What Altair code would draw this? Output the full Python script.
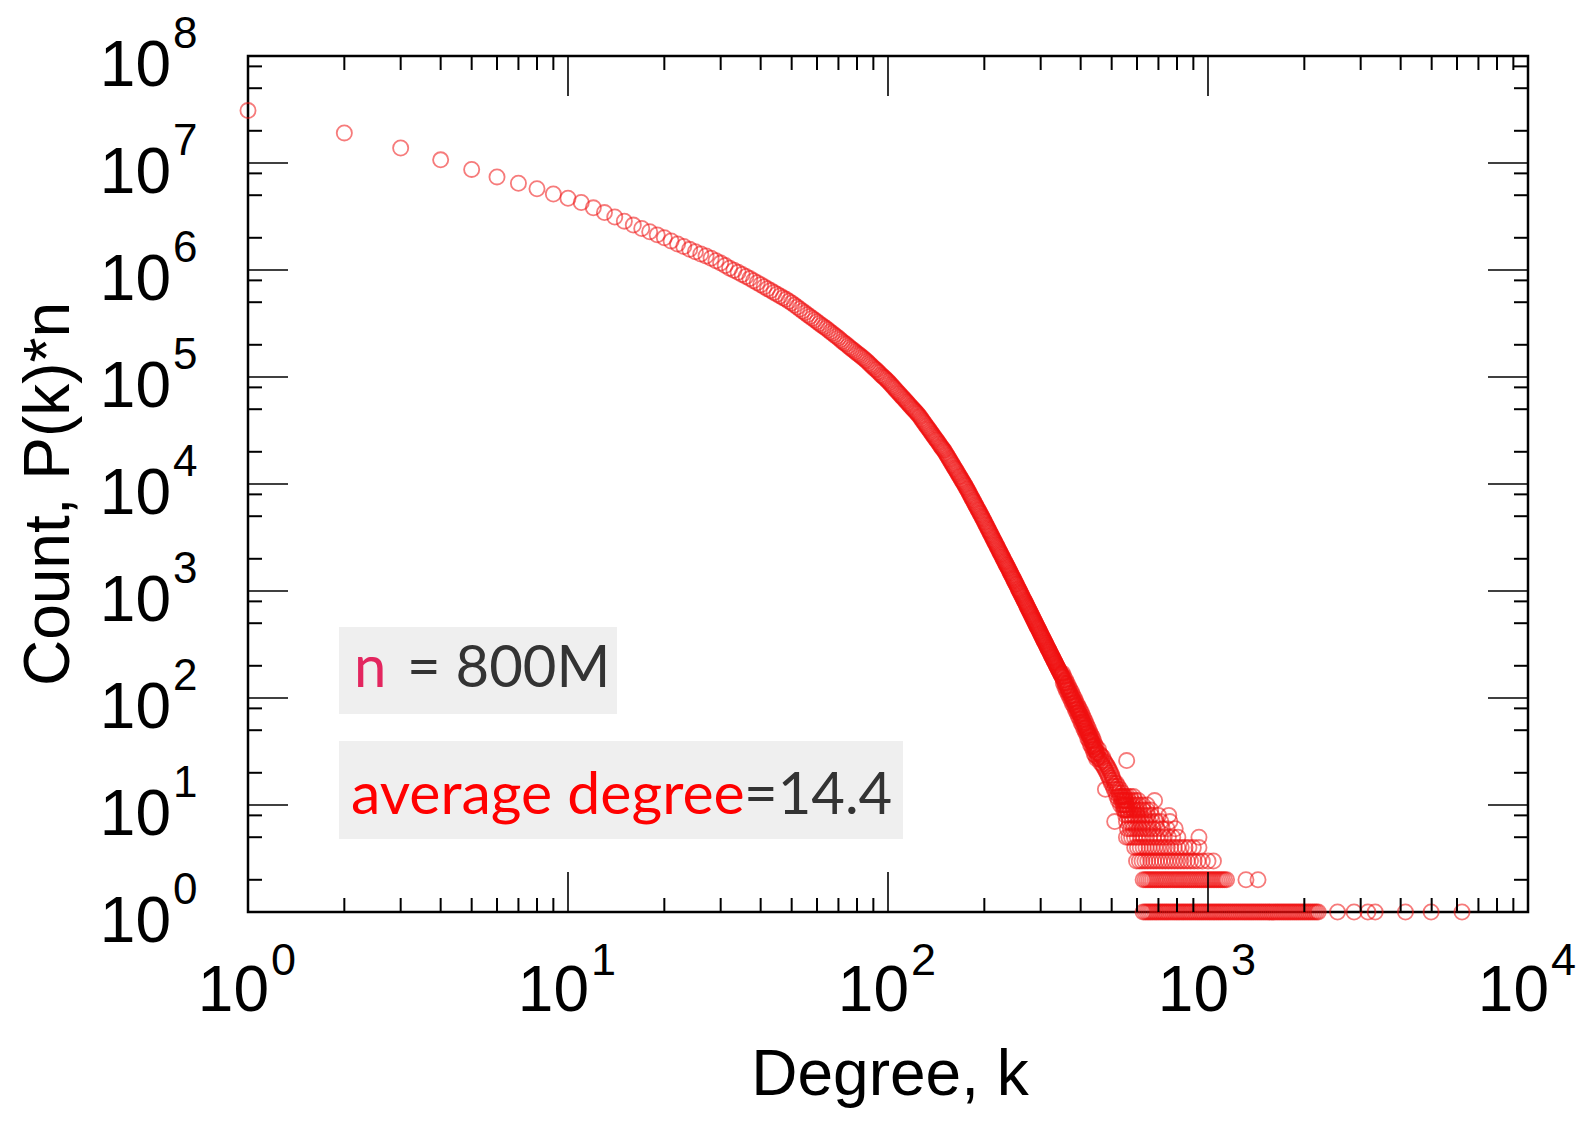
import altair as alt
import pandas as pd

# ---------------- data ----------------
# smooth part of the distribution: every degree 1..101
degree_low = list(range(1, 102))
count_low = [30900000, 19100000, 13800000, 10700000, 8710000, 7410000, 6460000, 5750000, 5130000, 4680000,
             4270000, 3810000, 3440000, 3130000, 2860000, 2630000, 2440000, 2280000, 2130000, 2000000,
             1870000, 1750000, 1660000, 1560000, 1480000, 1410000, 1350000, 1290000, 1220000, 1160000,
             1100000, 1040000, 994000, 951000, 909000, 869000, 831000, 794000, 760000, 728000,
             697000, 668000, 642000, 617000, 594000, 571000, 551000, 532000, 511000, 491000,
             470000, 450000, 432000, 414000, 398000, 382000, 368000, 354000, 341000, 328000,
             316000, 305000, 295000, 285000, 275000, 265000, 256000, 247000, 239000, 231000,
             223000, 215000, 208000, 202000, 195000, 189000, 183000, 178000, 172000, 167000,
             162000, 158000, 153000, 149000, 144000, 140000, 135000, 131000, 127000, 123000,
             119000, 116000, 112000, 109000, 105000, 102000, 99300, 96600, 93900, 91200,
             88300]
# even degrees 102..450
degree_even = list(range(102, 452, 2))
count_even = [85400, 80100, 75200, 70700, 66600, 62800, 59200, 55900, 52800, 49900, 47300, 44900,
              42200, 39500, 37000, 34700, 32600, 30600, 28800, 27100, 25600, 24100, 22700, 21500, 20400,
              19100, 17900, 16800, 15700, 14800, 13900, 13100, 12300, 11600, 10900, 10300, 9720,
              9150, 8590, 8060, 7580, 7130, 6710, 6320, 5960, 5620, 5300, 5010, 4730, 4470,
              4210, 3980, 3750, 3550, 3350, 3170, 3000, 2840, 2690, 2550, 2420, 2290,
              2180, 2070, 1960, 1870, 1770, 1690, 1610, 1530, 1460, 1390, 1320, 1260, 1200,
              1150, 1090, 1040, 993, 948, 905, 864, 825, 789, 754, 721, 690,
              660, 632, 605, 579, 555, 532, 510, 489, 469, 450, 432, 415, 398,
              382, 368, 354, 340, 327, 315, 303, 292, 281, 271, 261, 251,
              242, 234, 225, 217, 210, 202, 195, 189, 182, 176, 170, 164, 158,
              153, 147, 142, 137, 132, 128, 123, 119, 115, 111, 107, 104,
              100, 97, 94, 91, 88, 85, 82, 79, 77, 74, 72, 70, 68,
              65, 63, 61, 59, 57, 55, 53, 52, 50, 48, 47, 45,
              44, 43, 41, 40, 39, 38, 36, 35, 34, 33, 32, 31, 30]
# odd degrees 103..449
degree_odd = list(range(103, 450, 2))
count_odd = [82700, 77600, 72900, 68600, 64700, 61000, 57500, 54300, 51300, 48600, 46100, 43500,
             40800, 38200, 35800, 33600, 31600, 29700, 27900, 26300, 24800, 23400, 22100, 20900,
             19700, 18500, 17300, 16200, 15200, 14300, 13500, 12700, 11900, 11200, 10600, 10000,
             9430, 8870, 8320, 7820, 7350, 6920, 6510, 6140, 5790, 5460, 5150, 4870, 4600,
             4340, 4090, 3860, 3650, 3450, 3260, 3080, 2920, 2760, 2620, 2480, 2350,
             2230, 2120, 2010, 1910, 1820, 1730, 1650, 1570, 1490, 1420, 1350, 1290, 1230,
             1170, 1120, 1060, 1016, 970, 926, 884, 844, 807, 771, 737, 705,
             675, 646, 618, 592, 567, 543, 521, 499, 479, 459, 441, 423, 406,
             390, 375, 361, 347, 333, 321, 309, 297, 286, 276, 266, 256,
             246, 238, 229, 221, 213, 206, 198, 192, 185, 179, 173, 167, 161,
             170, 138, 158, 127, 147, 118, 137, 110, 128, 103, 120, 96,
             113, 89, 105, 84, 99, 78, 92, 73, 86, 68, 81, 64, 77,
             59, 72, 56, 67, 52, 63, 49, 59, 46, 55, 42, 52,
             40, 48, 37, 45, 35, 43, 33, 40, 30, 37, 29, 35, 27]

# noisy part of the tail
tail_degree = [451, 453, 455, 457, 459, 461, 463, 465, 467, 469, 471, 473, 475, 477,
               478,
               479, 481, 483, 485, 487, 489, 491, 493, 495, 497, 499, 501, 503, 505, 507, 509,
               511, 511,
               513, 515, 517, 519, 521, 523, 525, 527, 529, 531, 533, 535, 537, 539, 541, 543,
               545, 547, 549, 551, 553, 555,
               557, 557, 559]
tail_count = [31, 28, 33, 27, 30, 25, 29, 26, 24, 28, 23, 26, 22, 25,
              14,
              21, 24, 20, 23, 19, 22, 18, 21, 17, 20, 16, 19, 18, 15, 17, 14,
              7, 16,
              15, 13, 16, 12, 14, 15, 11, 13, 12, 14, 10, 12, 11, 13, 10, 12,
              9, 11, 10, 12, 9, 11,
              26, 10, 9]

# rows of small integer counts at high degree
row_count = [12, 11, 10, 9, 8, 7, 6, 5, 4, 3, 2, 1]
row_degree = [
    [538, 548, 560, 572, 585],
    [542, 552, 565, 578, 592, 605, 681],
    [545, 556, 568, 580, 594, 608, 625, 645],
    [549, 560, 572, 585, 598, 612, 628, 645, 662],
    [553, 564, 576, 589, 602, 616, 632, 648, 666, 700, 754],
    [556, 568, 580, 593, 606, 620, 636, 652, 670, 690, 712, 760],
    [560, 572, 584, 597, 610, 624, 640, 656, 674, 694, 720, 745, 790],
    [556, 566, 577, 589, 601, 614, 628, 643, 658, 675, 692, 710, 730, 752, 776, 805, 937],
    [590, 602, 614, 627, 640, 654, 668, 683, 698, 714, 730, 747, 765, 784, 804, 825, 848, 872,
     900, 937],
    [598, 610, 622, 635, 648, 662, 676, 690, 705, 720, 736, 752, 769, 786, 804, 822, 841, 861,
     882, 905, 930, 960, 1000, 1040],
    [627, 636, 645, 654, 663, 672, 682, 691, 701, 711, 721, 731, 741, 751, 762, 773, 784, 795,
     806, 817, 829, 840, 852, 864, 876, 888, 901, 914, 927, 940, 953, 966, 980, 994, 1008, 1022,
     1037, 1051, 1066, 1081, 1096, 1111, 1127, 1143, 1314, 1433],
    [627, 636, 645, 654, 663, 672, 682, 691, 701, 711, 721, 731, 741, 751, 762, 773, 784, 795,
     806, 817, 829, 840, 852, 864, 876, 888, 901, 914, 927, 940, 953, 966, 980, 994, 1008, 1022,
     1037, 1051, 1066, 1081, 1096, 1111, 1127, 1143, 1159, 1175, 1192, 1209, 1226, 1243, 1261,
     1279, 1297, 1315, 1334, 1353, 1372, 1391, 1411, 1431, 1451, 1471, 1492, 1513, 1534, 1556,
     1578, 1600, 1623, 1646, 1669, 1693, 1717, 1741, 1766, 1791, 1816, 1842, 1868, 1894, 1921,
     1948, 1976, 2004, 2032, 2061, 2090, 2120, 2150, 2180, 2210, 2540, 2860, 3160, 3330, 4140,
     4980, 6220],
]

# axis ticks and labels
x_major = [1, 10, 100, 1000, 10000]
x_minor = [2, 3, 4, 5, 6, 7, 8, 9, 20, 30, 40, 50, 60, 70, 80, 90,
           200, 300, 400, 500, 600, 700, 800, 900, 2000, 3000, 4000, 5000, 6000, 7000, 8000, 9000]
x_exp = ["0", "1", "2", "3", "4"]
y_major = [1, 10, 100, 1e3, 1e4, 1e5, 1e6, 1e7, 1e8]
y_minor = [2, 5, 8, 20, 50, 80, 200, 500, 800, 2e3, 5e3, 8e3, 2e4, 5e4, 8e4,
           2e5, 5e5, 8e5, 2e6, 5e6, 8e6, 2e7, 5e7, 8e7]
y_exp = ["0", "1", "2", "3", "4", "5", "6", "7", "8"]

# ---------------- build tables ----------------
assert len(degree_low) == len(count_low)
assert len(degree_even) == len(count_even)
assert len(degree_odd) == len(count_odd)
assert len(tail_degree) == len(tail_count)
ks = degree_low + degree_even + degree_odd + tail_degree
ns = count_low + count_even + count_odd + tail_count
for c, row in zip(row_count, row_degree):
    ks += row
    ns += [c] * len(row)
pts = pd.DataFrame({"k": ks, "n": ns})

W, H = 1280, 856
xs = alt.Scale(type="log", domain=[1, 10000], nice=False)
ys = alt.Scale(type="log", domain=[1, 1e8], nice=False)
one = pd.DataFrame({"a": [0]})
AXFONT = "Liberation Sans"
BOXFONT = "Lato"

points = alt.Chart(pts).mark_point(
    shape="circle", filled=False, size=230, strokeWidth=1.8, color="#f01010", opacity=0.55
).encode(
    x=alt.X("k:Q", scale=xs, axis=None),
    y=alt.Y("n:Q", scale=ys, axis=None),
)


def xticks(vals, length, sw):
    df = pd.DataFrame({"v": vals})
    bot = alt.Chart(df).mark_rule(color="black", strokeWidth=sw).encode(
        x=alt.X("v:Q", scale=xs, axis=None), y=alt.value(H), y2=alt.value(H - length))
    top = alt.Chart(df).mark_rule(color="black", strokeWidth=sw).encode(
        x=alt.X("v:Q", scale=xs, axis=None), y=alt.value(0), y2=alt.value(length))
    return [bot, top]


def yticks(vals, length, sw):
    df = pd.DataFrame({"v": vals})
    left = alt.Chart(df).mark_rule(color="black", strokeWidth=sw).encode(
        y=alt.Y("v:Q", scale=ys, axis=None), x=alt.value(0), x2=alt.value(length))
    right = alt.Chart(df).mark_rule(color="black", strokeWidth=sw).encode(
        y=alt.Y("v:Q", scale=ys, axis=None), x=alt.value(W), x2=alt.value(W - length))
    return [left, right]


ticks = (xticks(x_minor, 14, 2) + xticks(x_major, 40, 1.6)
         + yticks(y_minor, 14, 2) + yticks(y_major, 40, 1.6))

xlab_df = pd.DataFrame({"v": x_major, "e": x_exp})
ylab_df = pd.DataFrame({"v": y_major, "e": y_exp})

xlab10 = alt.Chart(xlab_df).mark_text(font=AXFONT, fontSize=64, align="right", baseline="alphabetic",
                                      dx=21, color="black").encode(
    x=alt.X("v:Q", scale=xs, axis=None), y=alt.value(H + 99), text=alt.value("10"))
xlabe = alt.Chart(xlab_df).mark_text(font=AXFONT, fontSize=45, align="left", baseline="alphabetic",
                                     dx=23, color="black").encode(
    x=alt.X("v:Q", scale=xs, axis=None), y=alt.value(H + 63), text="e:N")
ylab10 = alt.Chart(ylab_df).mark_text(font=AXFONT, fontSize=64, align="right", baseline="alphabetic",
                                      dy=30, color="black").encode(
    y=alt.Y("v:Q", scale=ys, axis=None), x=alt.value(-77), text=alt.value("10"))
ylabe = alt.Chart(ylab_df).mark_text(font=AXFONT, fontSize=44, align="left", baseline="alphabetic",
                                     dy=-8, color="black").encode(
    y=alt.Y("v:Q", scale=ys, axis=None), x=alt.value(-75), text="e:N")

xtitle = alt.Chart(one).mark_text(font=AXFONT, fontSize=64, align="center", baseline="alphabetic",
                                  color="black").encode(
    x=alt.value(W / 2 + 2), y=alt.value(H + 183), text=alt.value("Degree, k"))
ytitle = alt.Chart(one).mark_text(font=AXFONT, fontSize=64, align="center", baseline="alphabetic",
                                  angle=270, color="black").encode(
    x=alt.value(-179), y=alt.value(H / 2 + 10), text=alt.value("Count, P(k)*n"))

box1 = alt.Chart(one).mark_rect(color="#efefef").encode(
    x=alt.value(91), x2=alt.value(369), y=alt.value(571), y2=alt.value(658))
box2 = alt.Chart(one).mark_rect(color="#efefef").encode(
    x=alt.value(91), x2=alt.value(655), y=alt.value(685), y2=alt.value(783))

t_n = alt.Chart(one).mark_text(font=BOXFONT, fontSize=58, align="left", baseline="alphabetic",
                               color="#e3265f").encode(
    x=alt.value(106), y=alt.value(631), text=alt.value("n"))
t_n2 = alt.Chart(one).mark_text(font=BOXFONT, fontSize=58, align="left", baseline="alphabetic",
                                color="#333333").encode(
    x=alt.value(159), y=alt.value(631), text=alt.value("= 800M"))
t_a = alt.Chart(one).mark_text(font=BOXFONT, fontSize=59, align="left", baseline="alphabetic",
                               color="#ff0000").encode(
    x=alt.value(103), y=alt.value(758), text=alt.value("average degree"))
t_a2 = alt.Chart(one).mark_text(font=BOXFONT, fontSize=58, align="left", baseline="alphabetic",
                                color="#333333").encode(
    x=alt.value(496), y=alt.value(758), text=alt.value("=14.4"))

chart = alt.layer(
    box1, box2, t_n, t_n2, t_a, t_a2, points, *ticks, xlab10, xlabe, ylab10, ylabe, xtitle, ytitle
).properties(
    width=W, height=H,
    autosize=alt.AutoSizeParams(type="none"),
    padding={"left": 240, "top": 48, "right": 48, "bottom": 196},
    background="white",
).configure_view(stroke="black", strokeWidth=2.5)

chart.save("out.html", embed_options={"renderer": "svg", "actions": False})
